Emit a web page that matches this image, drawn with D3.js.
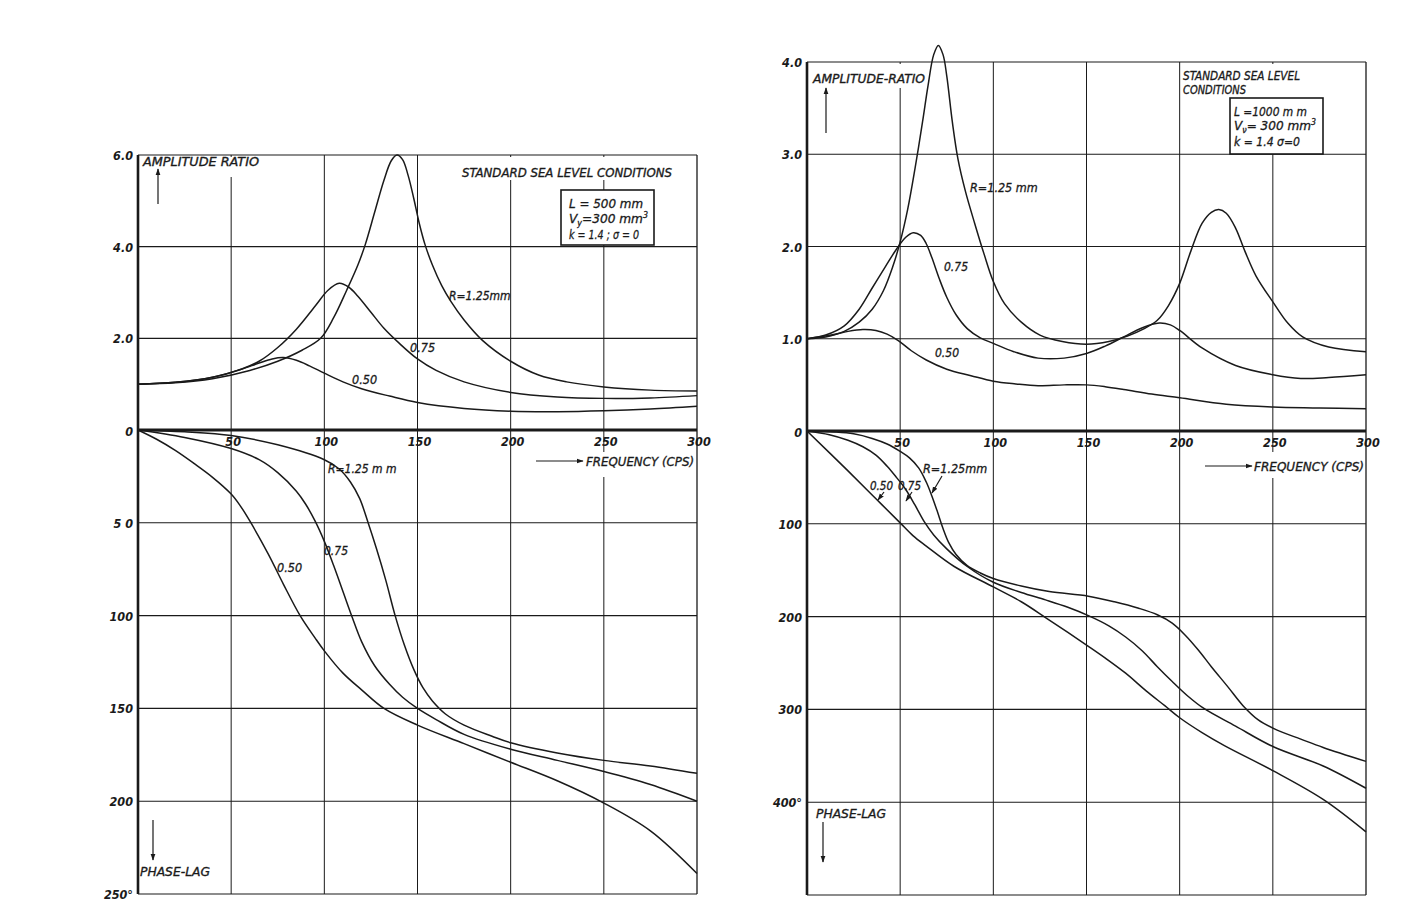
<!DOCTYPE html>
<html><head><meta charset="utf-8">
<script src="https://cdn.jsdelivr.net/npm/d3@7/dist/d3.min.js"></script>
<style>
html,body{margin:0;padding:0;background:#fff;}
svg text{font-family:'DejaVu Sans Condensed','DejaVu Sans','Liberation Sans',sans-serif;font-style:italic;fill:#1a1a1a;stroke:#1a1a1a;stroke-width:0.3;}
svg text.tick{font-weight:bold;stroke-width:0;}
</style></head>
<body>
<svg id="c" width="1421" height="922"></svg>
<script>
// ---------------- DATA ----------------
const freqTicks = [0, 50, 100, 150, 200, 250, 300];
const freqTickLabels = ["", "50", "100", "150", "200", "250", "300"];

// Left chart: L = 500 mm
const ampTicksL = [0, 2, 4, 6];
const ampTickLabelsL = ["0", "2.0", "4.0", "6.0"];
const phaseTicksL = [0, 50, 100, 150, 200, 250];
const phaseTickLabelsL = ["", "5 0", "100", "150", "200", "250°"];

const ampL_125 = [[0,1.0],[20,1.03],[40,1.12],[60,1.3],[75,1.5],[88,1.74],[98,2.0],[105,2.45],[112,3.05],[118,3.6],[122,4.05],[127,4.75],[132,5.45],[136,5.88],[139,6.0],[142,5.9],[145,5.55],[148,5.05],[151,4.5],[154,4.05],[158,3.6],[163,3.15],[168,2.8],[175,2.4],[185,1.95],[200,1.5],[215,1.2],[230,1.05],[250,0.94],[275,0.87],[300,0.85]];
const ampL_075 = [[0,1.0],[20,1.04],[40,1.15],[55,1.32],[65,1.5],[75,1.8],[85,2.2],[95,2.7],[102,3.05],[108,3.2],[113,3.12],[118,2.92],[125,2.57],[132,2.22],[140,1.9],[150,1.55],[160,1.3],[175,1.05],[200,0.82],[225,0.72],[250,0.69],[275,0.7],[300,0.75]];
const ampL_050 = [[0,1.0],[20,1.04],[40,1.15],[55,1.32],[65,1.46],[72,1.55],[78,1.58],[85,1.52],[92,1.4],[100,1.24],[110,1.05],[120,0.9],[135,0.74],[150,0.6],[175,0.47],[200,0.41],[225,0.4],[250,0.42],[275,0.46],[300,0.52]];

const phL_125 = [[0,0],[25,1],[50,3],[75,8],[100,16],[108,21],[114,28],[119,37],[123.5,50],[128,64],[133,81],[138,100],[143,116],[148,129],[153,139],[158,146],[165,153],[175,159],[190,165],[200,168.5],[225,174],[250,178],[275,181],[300,185]];
const phL_075 = [[0,0],[25,4],[50,10],[65,16],[75,23],[85,33],[90,40],[95,49],[100,60],[105,73],[110,87],[115,101],[120,114],[127,127],[135,137],[142,144],[150,150],[160,156],[175,164],[200,172],[225,178],[250,184],[275,191],[300,200]];
const phL_050 = [[0,0],[10,5],[20,11],[30,18],[40,25.5],[50,34.5],[55,41],[60,49],[70,67],[78,83],[87,100],[95,112],[100,119],[110,131],[120,140],[132,150],[150,159],[175,169],[200,179],[225,189],[250,201],[275,216],[300,239]];

// Right chart: L = 1000 mm
const ampTicksR = [0, 1, 2, 3, 4];
const ampTickLabelsR = ["0", "1.0", "2.0", "3.0", "4.0"];
const phaseTicksR = [0, 100, 200, 300, 400, 500];
const phaseTickLabelsR = ["", "100", "200", "300", "400°", ""];

const ampR_125 = [[0,1.0],[10,1.02],[20,1.08],[28,1.18],[35,1.32],[41,1.52],[46,1.78],[50,2.05],[54,2.4],[58,2.85],[62,3.35],[65,3.75],[68,4.08],[70.5,4.18],[73,4.08],[75,3.85],[78,3.35],[81,2.95],[85,2.6],[90,2.25],[95,1.92],[100,1.62],[106,1.38],[115,1.18],[125,1.04],[137,0.97],[150,0.94],[162,0.97],[172,1.03],[181,1.11],[188,1.2],[194,1.36],[200,1.6],[206,1.95],[212,2.25],[217,2.37],[221,2.4],[225,2.36],[230,2.2],[235,1.95],[241,1.68],[250,1.4],[258,1.17],[266,1.02],[280,0.91],[300,0.86]];
const ampR_075 = [[0,1.0],[10,1.04],[20,1.14],[28,1.32],[35,1.55],[42,1.78],[48,1.97],[53,2.1],[57,2.15],[61,2.12],[64,2.03],[67,1.88],[71,1.65],[75,1.45],[80,1.26],[86,1.11],[93,1.01],[100,0.95],[111,0.86],[124,0.79],[138,0.79],[150,0.84],[160,0.92],[170,1.02],[180,1.12],[189,1.17],[195,1.15],[200,1.09],[212,0.9],[230,0.71],[250,0.61],[265,0.57],[280,0.58],[300,0.61]];
const ampR_050 = [[0,1.0],[13,1.04],[22,1.08],[30,1.1],[37,1.09],[43,1.05],[49,0.98],[56,0.87],[64,0.77],[75,0.67],[88,0.6],[100,0.54],[112,0.51],[124,0.49],[138,0.5],[150,0.5],[160,0.48],[170,0.45],[185,0.4],[200,0.36],[225,0.29],[250,0.26],[275,0.25],[300,0.24]];

const phR_125 = [[0,0],[15,1],[25,3],[35,8],[43,14],[50,22],[55,29],[60,40],[64,55],[67,70],[70,87],[73,105],[76,120],[80,133],[86,145],[93,153],[100,159],[115,167],[130,173],[151,178],[165,184],[178,191],[188,198],[196,207],[203,220],[210,236],[217,254],[226,276],[234,296],[242,311],[252,322],[265,332],[277,341],[300,356]];
const phR_075 = [[0,0],[12,4],[22,10],[30,17],[37,26],[43,38],[48,50],[53,63],[58,80],[63,98],[68,112],[75,127],[86,146],[100,163],[115,174],[128,182],[140,190],[151,199],[162,210],[171,222],[180,237],[188,254],[196,270],[204,285],[213,299],[230,318],[250,340],[277,361],[300,385]];
const phR_050 = [[0,0],[22,43],[37,73],[50,99],[57,113],[64,124],[79,146],[100,168],[115,184],[128,201],[140,217],[151,232],[161,246],[171,261],[182,280],[192,296],[200,309],[212,325],[224,339],[250,366],[277,397],[300,432]];

// ---------------- DRAW ----------------
const svg = d3.select("#c");
const INK = "#1a1a1a";
svg.append("rect").attr("width",1421).attr("height",922).attr("fill","#fff");

const defs = svg.append("defs");
defs.append("marker").attr("id","ah").attr("viewBox","0 0 10 10").attr("refX",9).attr("refY",5)
  .attr("markerWidth",7).attr("markerHeight",7).attr("markerUnits","userSpaceOnUse").attr("orient","auto")
  .append("path").attr("d","M0,1.5 L10,5 L0,8.5 Z").attr("fill",INK);

function makePanel(cfg){
  const g = svg.append("g");
  const x = d3.scaleLinear().domain([0,300]).range([cfg.x0,cfg.x1]);
  const ya = d3.scaleLinear().domain([0,cfg.ampMax]).range([cfg.yAxis,cfg.yTop]);
  const yp = d3.scaleLinear().domain([0,cfg.phMax]).range([cfg.yAxis,cfg.yBot]);

  g.selectAll(".ha").data(cfg.ampTicks.filter(d=>d>0)).join("line")
    .attr("x1",cfg.x0).attr("x2",cfg.x1).attr("y1",d=>ya(d)).attr("y2",d=>ya(d))
    .attr("stroke",INK).attr("stroke-width",1.1);
  g.selectAll(".hp").data(cfg.phaseTicks.filter(d=>d>0)).join("line")
    .attr("x1",cfg.x0).attr("x2",cfg.x1).attr("y1",d=>yp(d)).attr("y2",d=>yp(d))
    .attr("stroke",INK).attr("stroke-width",1.1);
  g.selectAll(".v").data(freqTicks.filter(d=>d>0)).join("line")
    .attr("x1",d=>x(d)).attr("x2",d=>x(d)).attr("y1",cfg.yTop).attr("y2",cfg.yBot)
    .attr("stroke",INK).attr("stroke-width",d=>d===300?1.3:1);

  cfg.masks.forEach(m=>g.append("rect").attr("x",m[0]).attr("y",m[1]).attr("width",m[2]).attr("height",m[3]).attr("fill","#fff"));

  g.append("line").attr("x1",cfg.x0).attr("x2",cfg.x0).attr("y1",cfg.yTop).attr("y2",cfg.yBot)
    .attr("stroke",INK).attr("stroke-width",2.6);
  g.append("line").attr("x1",cfg.x0).attr("x2",cfg.x1).attr("y1",cfg.yAxis).attr("y2",cfg.yAxis)
    .attr("stroke",INK).attr("stroke-width",2.8);

  const tl = g.append("g").attr("font-size",12.5).attr("text-anchor","end");
  cfg.ampTicks.forEach((d,i)=>{ tl.append("text").attr("class","tick").attr("x",cfg.x0-5).attr("y",ya(d)+(d===0?6:5)).text(cfg.ampTickLabels[i]); });
  cfg.phaseTicks.forEach((d,i)=>{ if(cfg.phaseTickLabels[i]) tl.append("text").attr("class","tick").attr("x",cfg.x0-5).attr("y",yp(d)+5).text(cfg.phaseTickLabels[i]); });
  const xl = g.append("g").attr("font-size",12.5).attr("text-anchor","middle");
  freqTicks.forEach((d,i)=>{ if(freqTickLabels[i]) xl.append("text").attr("class","tick").attr("x",x(d)+2).attr("y",cfg.yAxis+16).text(freqTickLabels[i]); });

  const line = (yS)=>d3.line().x(d=>x(d[0])).y(d=>yS(d[1])).curve(d3.curveCatmullRom.alpha(0.5));
  cfg.ampSeries.forEach(s=>g.append("path").attr("d",line(ya)(s)).attr("fill","none").attr("stroke",INK).attr("stroke-width",1.5));
  cfg.phSeries.forEach(s=>g.append("path").attr("d",line(yp)(s)).attr("fill","none").attr("stroke",INK).attr("stroke-width",1.5));

  return {g,x,ya,yp};
}

function txt(g,x,y,s,size,len){
  const t = g.append("text").attr("x",x).attr("y",y).attr("font-size",size);
  if(Array.isArray(s)){
    s.forEach(p=>{
      const ts=t.append("tspan").text(p.t);
      if(p.sub) ts.attr("dy",2.5).attr("font-size",size*0.65);
      if(p.sup) ts.attr("dy",-5).attr("font-size",size*0.65);
      if(p.back) ts.attr("dy",p.back);
    });
  } else t.text(s);
  if(len) t.attr("textLength",len).attr("lengthAdjust","spacingAndGlyphs");
  return t;
}
function arrow(g,x1,y1,x2,y2){
  g.append("line").attr("x1",x1).attr("y1",y1).attr("x2",x2).attr("y2",y2).attr("stroke",INK).attr("stroke-width",1.2).attr("marker-end","url(#ah)");
}

// ---- Left panel ----
const L = makePanel({x0:138,x1:697,yTop:155,yAxis:430,yBot:894,ampMax:6,phMax:250,
  ampTicks:ampTicksL,ampTickLabels:ampTickLabelsL,phaseTicks:phaseTicksL,phaseTickLabels:phaseTickLabelsL,
  ampSeries:[ampL_125,ampL_075,ampL_050],phSeries:[phL_125,phL_075,phL_050],
  masks:[[140,157,125,20],[458,157,218,23],[535,452,158,25]]});
{
  const g=L.g;
  txt(g,143,166,"AMPLITUDE RATIO",11.5,116);
  arrow(g,158,204,158,169);
  txt(g,462,177,"STANDARD  SEA  LEVEL CONDITIONS",11.5,210);
  g.append("rect").attr("x",561).attr("y",190).attr("width",93).attr("height",55).attr("fill","#fff").attr("stroke",INK).attr("stroke-width",1.6);
  txt(g,569,208,"L  = 500 mm",13,74);
  txt(g,569,223,[{t:"V"},{t:"y",sub:true},{t:"=300 mm",back:-2.5},{t:"3",sup:true}],13,79);
  txt(g,569,239,"k = 1.4 ; σ = 0",13,70);
  txt(g,449,300,"R=1.25mm",12);
  txt(g,410,352,"0.75",12.5);
  txt(g,352,384,"0.50",12.5);
  txt(g,328,473,"R=1.25 m m",12);
  txt(g,324,555,"0.75",12);
  txt(g,277,572,"0.50",12.5);
  arrow(g,536,461,583,461);
  txt(g,586,466,"FREQUENCY  (CPS)",12,108);
  arrow(g,153,820,153,860);
  txt(g,140,876,"PHASE-LAG",11.5,70);
}

// ---- Right panel ----
const R = makePanel({x0:807,x1:1366,yTop:62,yAxis:431,yBot:895,ampMax:4,phMax:500,
  ampTicks:ampTicksR,ampTickLabels:ampTickLabelsR,phaseTicks:phaseTicksR,phaseTickLabels:phaseTickLabelsR,
  ampSeries:[ampR_125,ampR_075,ampR_050],phSeries:[phR_125,phR_075,phR_050],
  masks:[[810,64,122,24],[1183,64,125,34],[1200,452,163,26]]});
{
  const g=R.g;
  txt(g,813,83,"AMPLITUDE-RATIO",11.5,112);
  arrow(g,826,133,826,88);
  txt(g,1183,80,"STANDARD  SEA  LEVEL",11.5,117);
  txt(g,1183,94,"CONDITIONS",11.5,63);
  g.append("rect").attr("x",1230).attr("y",98).attr("width",93).attr("height",56).attr("fill","#fff").attr("stroke",INK).attr("stroke-width",1.6);
  txt(g,1234,116,"L =1000 m m",12.5,73);
  txt(g,1234,130,[{t:"V"},{t:"ν",sub:true},{t:"= 300 mm",back:-2.5},{t:"3",sup:true}],12.5,82);
  txt(g,1234,146,"k = 1.4   σ=0",12.5,66);
  txt(g,970,192,"R=1.25 mm",12.5);
  txt(g,944,271,"0.75",12);
  txt(g,935,357,"0.50",12);
  txt(g,923,473,"R=1.25mm",12.5);
  txt(g,870,490,"0.50",11.5);
  txt(g,898,490,"0.75",11.5);
  arrow(g,884,492,878,500);
  arrow(g,912,492,906,501);
  arrow(g,942,476,932,493);
  arrow(g,1205,466,1252,466);
  txt(g,1254,471,"FREQUENCY (CPS)",12,110);
  arrow(g,823,822,823,862);
  txt(g,816,818,"PHASE-LAG",11.5,70);
}
</script>
</body></html>
